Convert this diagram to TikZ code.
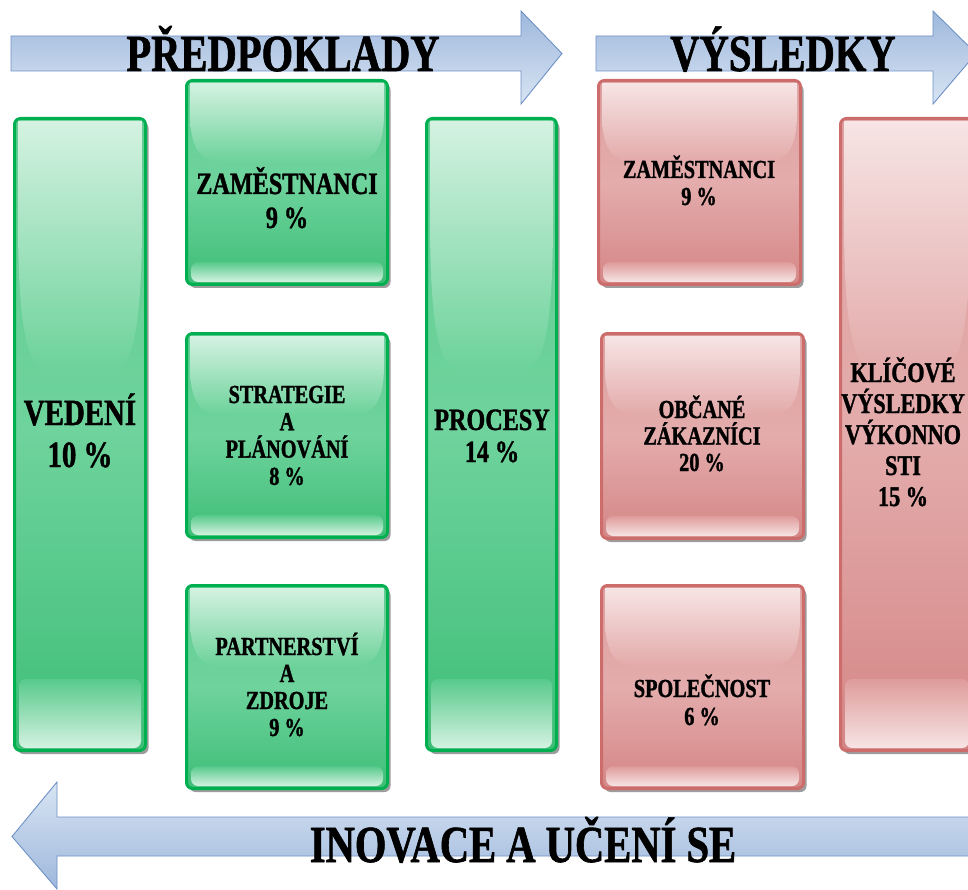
\documentclass[tikz,border=0pt]{standalone}
\usepackage{fontspec}
\setmainfont{Liberation Serif}[FakeStretch=0.78, BoldFeatures={FakeBold=1.2}]
\usetikzlibrary{shadows}

% palette
\definecolor{gBorder}{RGB}{0,176,80}
\definecolor{gLight}{RGB}{212,242,225}
\definecolor{gMid}{RGB}{98,205,147}
\definecolor{gMidB}{RGB}{110,211,156}
\definecolor{gDark}{RGB}{62,190,119}
\definecolor{gStrip}{RGB}{88,202,140}
\definecolor{rBorder}{RGB}{204,108,107}
\definecolor{rLight}{RGB}{247,228,228}
\definecolor{rMid}{RGB}{222,160,160}
\definecolor{rMidB}{RGB}{228,172,172}
\definecolor{rDark}{RGB}{212,134,133}
\definecolor{rStrip}{RGB}{222,156,155}
\definecolor{aBorder}{RGB}{109,144,198}
\definecolor{aDark}{RGB}{158,184,220}
\definecolor{aLight}{RGB}{216,228,243}

\tikzset{
  panel/.style={rounded corners=6pt, line width=3pt, inner sep=0pt,
    drop shadow={shadow xshift=3pt, shadow yshift=-3.5pt, opacity=0.55, fill=black!70}},
  panelg/.style={panel, draw=gBorder, top color=gMid, bottom color=gDark, middle color=gMidB},
  panelr/.style={panel, draw=rBorder, top color=rMid, bottom color=rDark, middle color=rMidB},
  arrowdown/.style={draw=aBorder, line width=0.9pt, line join=miter, top color=aDark, bottom color=aLight},
  arrowup/.style={draw=aBorder, line width=0.9pt, line join=miter, top color=aLight, bottom color=aDark},
  lbl/.style 2 args={font=\bfseries\fontsize{#1}{#2}\selectfont, anchor=base, inner sep=0pt, text=black},
}

% centred lines with a fixed baseline pitch; the box baseline is the first line
\newcommand\mlines[1]{\vtop{\lineskiplimit=-100pt\lineskip=0pt\halign{\hfil##\hfil\cr#1\crcr}}}

% glossy panel: name, x1, y1, x2, y2, colour scheme (g or r)
\newcommand\panelbox[6]{%
  \pgfmathsetmacro\pnW{#4-#2}\pgfmathsetmacro\pnH{#5-#3}%
  \node[panel#6, minimum width=\pnW pt-3pt, minimum height=\pnH pt-3pt] (#1)
    at ({(#2+#4)/2},{(#3+#5)/2}) {};
  \pgfmathsetmacro\pnL{#2+5}\pgfmathsetmacro\pnR{#4-5}%
  \pgfmathsetmacro\pnT{#3+4}%
  \pgfmathsetmacro\pnS{#3+0.16*\pnH}\pgfmathsetmacro\pnB{#3+0.40*\pnH}%
  \pgfmathsetmacro\pnRR{min(0.3*\pnW,0.2*\pnH)}\pgfmathsetmacro\pnK{0.45*\pnRR}%
  % upper sheen
  \shade[top color=#6Light, bottom color=#6Mid!20!#6MidB]
    (\pnL,\pnT) -- (\pnR,\pnT) -- (\pnR,\pnS)
    .. controls (\pnR,\pnB) and (\pnR-\pnK,\pnB) .. (\pnR-\pnRR,\pnB)
    -- (\pnL+\pnRR,\pnB)
    .. controls (\pnL+\pnK,\pnB) and (\pnL,\pnB) .. (\pnL,\pnS) -- cycle;
  % lower sheen strip
  \pgfmathsetmacro\pnBT{#5-0.115*\pnH}%
  \shade[top color=#6Strip, bottom color=#6Light, rounded corners=7pt]
    (#2+6,\pnBT) rectangle (#4-6,#5-4);
}

\begin{document}
\begin{tikzpicture}[x=1pt,y=-1pt]
\useasboundingbox (0,0) rectangle (968,890);
\clip (0,0) rectangle (968,890);

% band arrows
\path[arrowdown] (11,36) -- (521,36) -- (521,11) -- (562,53.5) -- (521,104) -- (521,71) -- (11,71) -- cycle;
\path[arrowdown] (596,36) -- (933,36) -- (933,11) -- (976,53.5) -- (933,104) -- (933,71) -- (596,71) -- cycle;
\path[arrowup] (975,817) -- (57,817) -- (57,782) -- (12,836.5) -- (57,889) -- (57,856) -- (975,856) -- cycle;

% enabler panels
\panelbox{vedeni}{13}{117}{147}{752}{g}
\panelbox{zamg}{185}{79}{389}{286}{g}
\panelbox{strat}{185}{332}{389}{539}{g}
\panelbox{partner}{185}{584}{389}{790}{g}
\panelbox{procesy}{425}{117}{558}{752}{g}

% result panels
\panelbox{zamr}{597}{79}{802}{286}{r}
\panelbox{obcane}{600}{332}{805}{540}{r}
\panelbox{spol}{600}{584}{805}{790}{r}
\panelbox{klic}{839}{117}{975}{752}{r}

% band titles
\node[lbl={52}{60}] (t-pred) at (283,71) {PŘEDPOKLADY};
\node[lbl={52}{60}] (t-vysl) at (783,71) {VÝSLEDKY};
\node[lbl={52}{60}] (t-inov) at (523,862) {INOVACE A UČENÍ SE};

% panel labels
\node[lbl={37}{42}] (t-vedeni) at (80,425) {\mlines{VEDENÍ\cr 10 \%}};
\node[lbl={31}{34}] (t-zamg) at (287,194) {\mlines{ZAMĚSTNANCI\cr 9 \%}};
\node[lbl={26}{27.3}] (t-strat) at (287,403) {\mlines{STRATEGIE\cr A\cr PLÁNOVÁNÍ\cr 8 \%}};
\node[lbl={26}{27}] (t-partner) at (287,655) {\mlines{PARTNERSTVÍ\cr A\cr ZDROJE\cr 9 \%}};
\node[lbl={31}{32}] (t-procesy) at (492,430) {\mlines{PROCESY\cr 14 \%}};
\node[lbl={26}{27}] (t-zamr) at (699,178) {\mlines{ZAMĚSTNANCI\cr 9 \%}};
\node[lbl={26}{26.5}] (t-obcane) at (702,418) {\mlines{OBČANÉ\cr ZÁKAZNÍCI\cr 20 \%}};
\node[lbl={26}{28}] (t-spol) at (702,697) {\mlines{SPOLEČNOST\cr 6 \%}};
\node[lbl={28.5}{31}] (t-klic) at (903,382) {\mlines{KLÍČOVÉ\cr VÝSLEDKY\cr VÝKONNO\cr STI\cr 15 \%}};
\end{tikzpicture}
\end{document}
